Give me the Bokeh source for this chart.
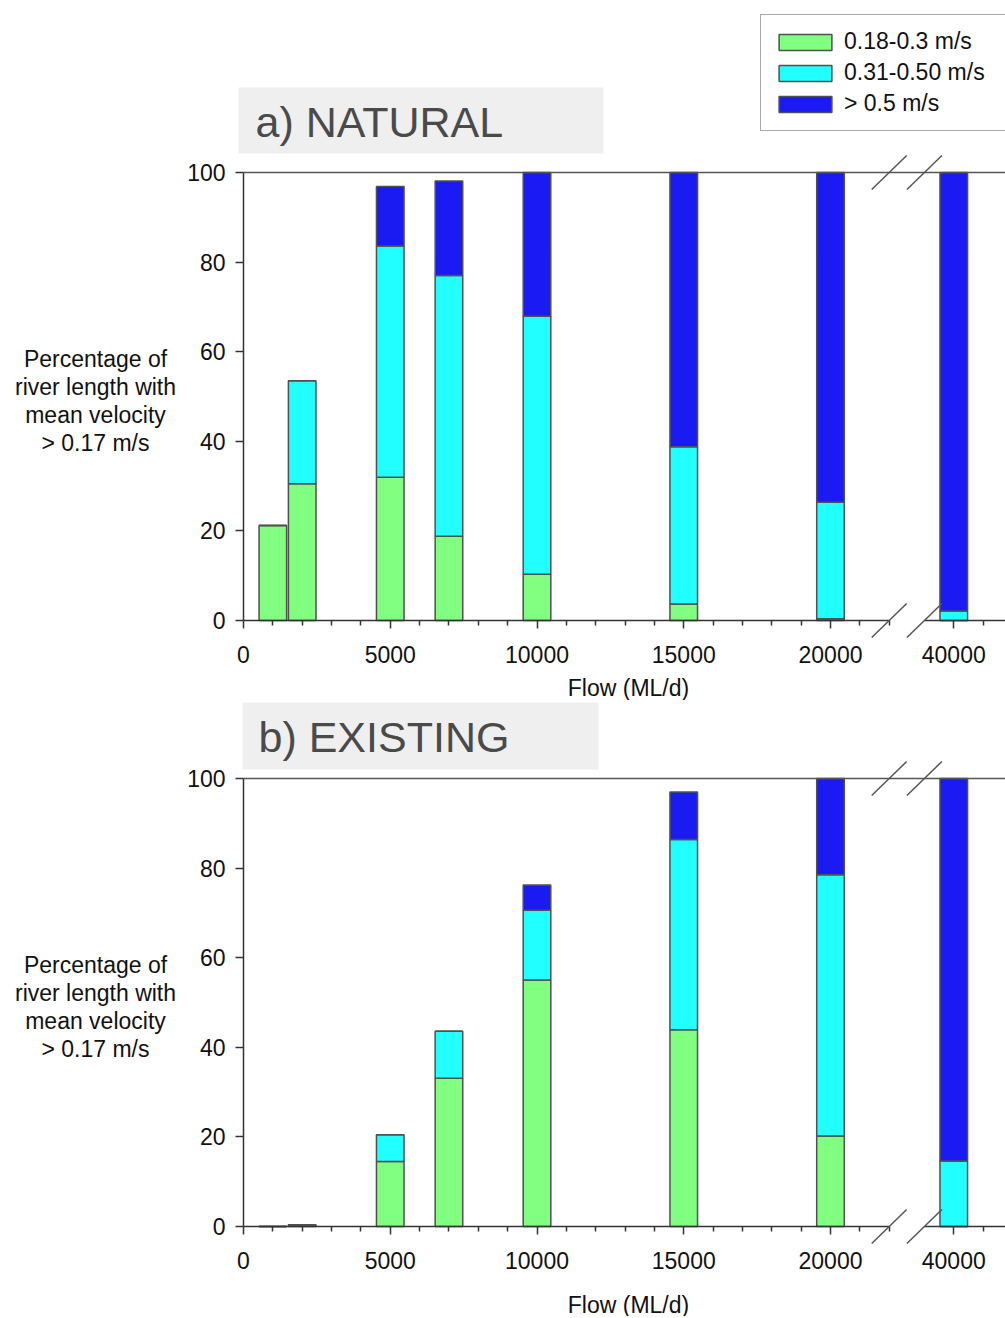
from bokeh.plotting import figure
from bokeh.layouts import column
from bokeh.models import (ColumnDataSource, Range1d, FixedTicker, CustomJSTransform,
                          BoxAnnotation, Label, Arrow, LinearAxis)
from bokeh.transform import transform
from bokeh.embed import file_html
from bokeh.resources import INLINE

# ---------------- data ----------------
flows = [1000, 2000, 5000, 7000, 10000, 15000, 20000, 40000]
series_labels = ["0.18-0.3 m/s", "0.31-0.50 m/s", "> 0.5 m/s"]
series_colors = ["#80ff80", "#22ffff", "#1a1af2"]

natural_low = [21.2, 30.5, 32.0, 18.8, 10.3, 3.7, 0.4, 0.0]
natural_mid = [0.0, 23.0, 51.6, 58.2, 57.6, 35.1, 26.0, 2.1]
natural_high = [0.0, 0.0, 13.3, 21.1, 32.1, 61.2, 73.6, 97.9]

existing_low = [0.0, 0.4, 14.5, 33.1, 55.0, 43.9, 20.2, 0.0]
existing_mid = [0.0, 0.0, 6.0, 10.5, 15.6, 42.5, 58.3, 14.6]
existing_high = [0.0, 0.0, 0.0, 0.0, 5.6, 10.6, 21.5, 85.4]

x_major_ticks_left = [0, 5000, 10000, 15000, 20000]
x_minor_ticks_left = [1000, 2000, 3000, 4000, 6000, 7000, 8000, 9000, 11000, 12000, 13000,
                      14000, 16000, 17000, 18000, 19000, 21000, 22000]
x_major_ticks_right = [40000]
x_minor_ticks_right = [41000]
y_ticks = [0, 20, 40, 60, 80, 100]
y_label_lines = ["Percentage of", "river length with", "mean velocity", "> 0.17 m/s"]
x_label = "Flow (ML/d)"

# broken x axis: flows above the break are shifted left by BREAK_SHIFT
BREAK_LO = 22000
BREAK_HI = 39000
BREAK_SHIFT = 15800

FONT = "Liberation Sans"
PAGE_W = 1005
AX_X0 = 243            # pixel column of x = 0 / the y axis
PX_PER_UNIT = 0.02935  # pixels per ML/d
FRAME_H = 448          # pixels for 0..100 %
UX = 1.0 / PX_PER_UNIT
UY = 100.0 / FRAME_H


def compress(v):
    return v - BREAK_SHIFT if v > BREAK_HI - 1000 else v


break_tf = CustomJSTransform(
    args=dict(hi=BREAK_HI - 1000, shift=BREAK_SHIFT),
    func="return x > hi ? x - shift : x;",
    v_func="""
        const out = new Array(xs.length);
        for (let i = 0; i < xs.length; i++) {
            out[i] = xs[i] > hi ? xs[i] - shift : xs[i];
        }
        return out;
    """)


def styled_axis(ax):
    ax.axis_line_color = "#333333"
    ax.axis_line_width = 1.5
    ax.major_tick_line_color = "#333333"
    ax.major_tick_line_width = 1.5
    ax.major_tick_in = 0
    ax.major_tick_out = 8
    ax.minor_tick_line_color = "#333333"
    ax.minor_tick_line_width = 1.5
    ax.minor_tick_in = 0
    ax.minor_tick_out = 5
    ax.major_label_text_font = FONT
    ax.major_label_text_font_size = "23px"
    ax.major_label_text_color = "#111111"
    return ax


def build_panel(low, mid, high, title, legend, height, y0_px, box_px, title_px, xlab_px):
    """All *_px positions are pixels measured from the top-left of this panel."""
    y100_px = y0_px - FRAME_H

    def X(px):
        return (px - AX_X0) * UX

    def Y(py):
        return (y0_px - py) * UY

    src = ColumnDataSource(dict(flow=flows, low=low, mid=mid, high=high))
    p = figure(width=PAGE_W, height=height,
               x_range=Range1d(X(0), X(PAGE_W)), y_range=Range1d(Y(height), Y(0)),
               x_axis_location=None, y_axis_location=None,
               output_backend="svg", toolbar_location=None,
               min_border=0)
    p.outline_line_color = None
    p.xgrid.grid_line_color = None
    p.ygrid.grid_line_color = None
    p.background_fill_color = "white"
    p.border_fill_color = "white"

    kw = dict(legend_label=series_labels) if legend else {}
    p.vbar_stack(["low", "mid", "high"], x=transform("flow", break_tf), width=940,
                 source=src, fill_color=series_colors, line_color="#505050",
                 line_width=1.5, **kw)

    # x axis: two pieces either side of the break
    xa1 = styled_axis(LinearAxis(fixed_location=0, bounds=(0, BREAK_LO)))
    xa1.ticker = FixedTicker(ticks=[compress(t) for t in x_major_ticks_left],
                             minor_ticks=[compress(t) for t in x_minor_ticks_left])
    xa1.major_label_overrides = {compress(t): str(t) for t in x_major_ticks_left}
    xa1.major_label_standoff = 17
    p.add_layout(xa1, "below")

    xa2 = styled_axis(LinearAxis(fixed_location=0,
                                 bounds=(compress(BREAK_HI), X(PAGE_W) + 100)))
    xa2.ticker = FixedTicker(ticks=[compress(t) for t in x_major_ticks_right],
                             minor_ticks=[compress(t) for t in x_minor_ticks_right])
    xa2.major_label_overrides = {compress(t): str(t) for t in x_major_ticks_right}
    xa2.major_label_standoff = 17
    p.add_layout(xa2, "below")

    # y axis
    ya = styled_axis(LinearAxis(fixed_location=0, bounds=(0, 100)))
    ya.ticker = FixedTicker(ticks=y_ticks, minor_ticks=[])
    ya.minor_tick_line_color = None
    ya.major_label_standoff = 10
    p.add_layout(ya, "left")

    # top border line (continuous across the break)
    top = LinearAxis(fixed_location=100, bounds=(0, X(PAGE_W) + 100))
    top.ticker = FixedTicker(ticks=[], minor_ticks=[])
    top.axis_line_color = "#555555"
    top.axis_line_width = 1.5
    top.major_tick_line_color = None
    top.minor_tick_line_color = None
    top.major_label_text_alpha = 0
    p.add_layout(top, "above")

    # break slashes
    dx = 17.5 * UX
    dy = 17.0 * UY
    for xc in (BREAK_LO, compress(BREAK_HI)):
        for yc in (0, 100):
            p.add_layout(Arrow(end=None, x_start=xc - dx, y_start=yc - dy,
                               x_end=xc + dx, y_end=yc + dy,
                               line_color="#555555", line_width=1.5))

    # title box
    bl, br, bt, bb = box_px
    p.add_layout(BoxAnnotation(left=X(bl), right=X(br), bottom=Y(bb), top=Y(bt),
                               fill_color="#efefef", fill_alpha=1.0,
                               line_color=None, level="underlay"))
    tx, ty = title_px
    p.add_layout(Label(x=X(tx), y=Y(ty), text=title, text_font=FONT,
                       text_font_size="43px", text_color="#4a4a4a",
                       text_baseline="middle", text_align="left"))

    # y axis title (horizontal, multi-line)
    yl_c = y100_px + 186
    for i, line in enumerate(y_label_lines):
        p.add_layout(Label(x=X(95), y=Y(yl_c + 28 * i), text=line,
                           text_font=FONT, text_font_size="23px", text_color="#111111",
                           text_align="center", text_baseline="middle"))

    # x axis title
    p.add_layout(Label(x=X(xlab_px[0]), y=Y(xlab_px[1]), text=x_label,
                       text_font=FONT, text_font_size="23px", text_color="#111111",
                       text_align="center", text_baseline="middle"))

    if legend:
        lg = p.legend[0]
        lg.location = (760, height - 131)
        lg.margin = 0
        lg.padding = 11
        lg.spacing = 0
        lg.glyph_width = 66
        lg.glyph_height = 20
        lg.label_height = 31
        lg.label_width = 190
        lg.label_standoff = 6
        lg.label_text_font = FONT
        lg.label_text_font_size = "23px"
        lg.label_text_color = "#111111"
        lg.border_line_color = "#555555"
        lg.border_line_width = 1.5
        lg.background_fill_color = "white"
        lg.background_fill_alpha = 1.0
    return p


# panel a occupies page rows 0..700, panel b rows 700..1316
pa = build_panel(natural_low, natural_mid, natural_high, "a) NATURAL", True,
                 height=700, y0_px=620,
                 box_px=(238, 603, 87, 153), title_px=(255, 121), xlab_px=(628, 687))
pb = build_panel(existing_low, existing_mid, existing_high, "b) EXISTING", False,
                 height=616, y0_px=1226 - 700,
                 box_px=(242, 598, 702 - 700, 769 - 700), title_px=(258, 736 - 700),
                 xlab_px=(628, 1304 - 700))

layout = column(pa, pb, spacing=0)
open("out.html", "w").write(file_html(layout, INLINE))
